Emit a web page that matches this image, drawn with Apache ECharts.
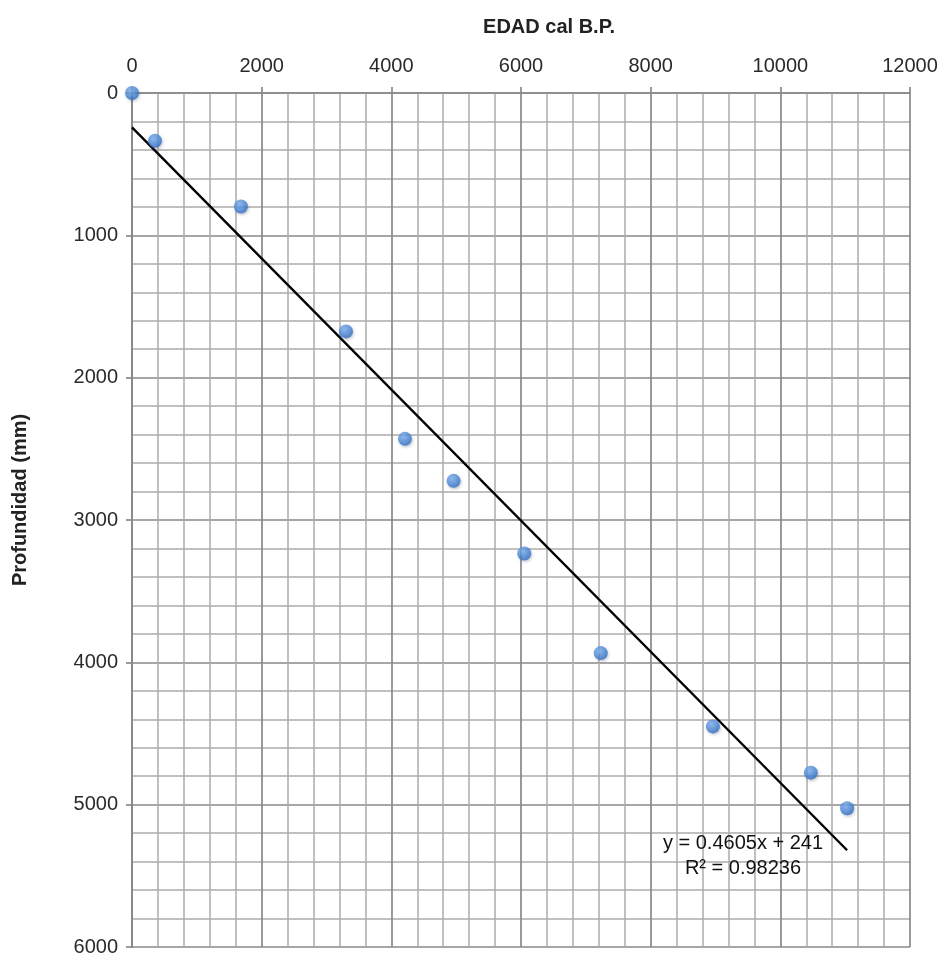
<!DOCTYPE html>
<html>
<head>
<meta charset="utf-8">
<script src="https://cdn.jsdelivr.net/npm/echarts@6/dist/echarts.min.js"></script>
<style>
  html, body { margin: 0; padding: 0; background: #ffffff; }
  #chart { width: 943px; height: 957px; }
</style>
</head>
<body>
<div id="chart"></div>
<script>
// Age (cal B.P.) against depth (mm) of dated samples
const edad = [0, 355, 1680, 3300, 4210, 4960, 6050, 7230, 8960, 10470, 11030];
const profundidad = [0, 336, 797, 1675, 2430, 2725, 3235, 3935, 4450, 4775, 5025];

// Linear fit reported on the chart
const pendiente = 0.4605;
const intercepto = 241;
const r2 = 0.98236;
const tendenciaX = [0, 11030];

const puntos = edad.map((x, i) => [x, profundidad[i]]);
const tendencia = tendenciaX.map(x => [x, pendiente * x + intercepto]);

const chart = echarts.init(document.getElementById('chart'));
const FONT = '"Liberation Sans", Arial, sans-serif';
const plain = v => String(v);

const gridMajor = { lineStyle: { color: '#8a8787', width: 1.7 } };
const gridMinor = { lineStyle: { color: '#afabab', width: 1.5 } };

chart.setOption({
  backgroundColor: '#ffffff',
  animation: false,
  title: {
    text: 'EDAD cal B.P.',
    left: 544,
    top: 12,
    textAlign: 'center',
    textStyle: { fontFamily: FONT, fontSize: 20, fontWeight: 'bold', color: '#222' }
  },
  grid: { left: 132, right: 33, top: 93, bottom: 6 },
  xAxis: {
    type: 'value',
    position: 'top',
    min: 0, max: 12000, interval: 2000,
    axisLine: { show: true, lineStyle: { color: '#8a8787', width: 1.7 } },
    axisTick: { show: true, length: 6, lineStyle: { color: '#8a8787', width: 1.7 } },
    axisLabel: { margin: 17, fontFamily: FONT, fontSize: 20, color: '#2a2a2a', formatter: plain },
    splitLine: gridMajor,
    minorTick: { show: false, splitNumber: 5 },
    minorSplitLine: { show: true, lineStyle: gridMinor.lineStyle }
  },
  yAxis: {
    type: 'value',
    inverse: true,
    min: 0, max: 6000, interval: 1000,
    axisLine: { show: true, lineStyle: { color: '#8a8787', width: 1.7 } },
    axisTick: { show: true, length: 6, lineStyle: { color: '#8a8787', width: 1.7 } },
    axisLabel: { margin: 14, fontFamily: FONT, fontSize: 20, color: '#2a2a2a', formatter: plain },
    splitLine: gridMajor,
    minorTick: { show: false, splitNumber: 5 },
    minorSplitLine: { show: true, lineStyle: gridMinor.lineStyle }
  },
  graphic: [
    {
      type: 'text',
      x: 20, y: 500,
      rotation: Math.PI / 2,
      style: {
        text: 'Profundidad (mm)',
        font: 'bold 20px ' + FONT,
        fill: '#222',
        textAlign: 'center',
        textVerticalAlign: 'middle'
      }
    },
    {
      type: 'text',
      x: 743, y: 843,
      z: 10,
      style: {
        text: 'y = ' + pendiente + 'x + ' + intercepto,
        font: '20px ' + FONT,
        fill: '#111',
        textAlign: 'center',
        textVerticalAlign: 'middle'
      }
    },
    {
      type: 'text',
      x: 743, y: 868,
      z: 10,
      style: {
        text: 'R² = ' + r2,
        font: '20px ' + FONT,
        fill: '#111',
        textAlign: 'center',
        textVerticalAlign: 'middle'
      }
    }
  ],
  series: [
    {
      type: 'line',
      data: tendencia,
      showSymbol: false,
      symbol: 'none',
      lineStyle: { color: '#000000', width: 2.4 },
      z: 3
    },
    {
      type: 'scatter',
      data: puntos,
      symbol: 'circle',
      symbolSize: 14,
      clip: false,
      z: 4,
      itemStyle: {
        color: {
          type: 'radial', x: 0.4, y: 0.35, r: 0.7,
          colorStops: [
            { offset: 0, color: '#7fb2ee' },
            { offset: 0.6, color: '#4a87d6' },
            { offset: 1, color: '#2f68b8' }
          ]
        },
        shadowColor: 'rgba(40,60,100,0.35)',
        shadowBlur: 3,
        shadowOffsetX: 1,
        shadowOffsetY: 1.5
      }
    }
  ]
});
</script>
</body>
</html>
